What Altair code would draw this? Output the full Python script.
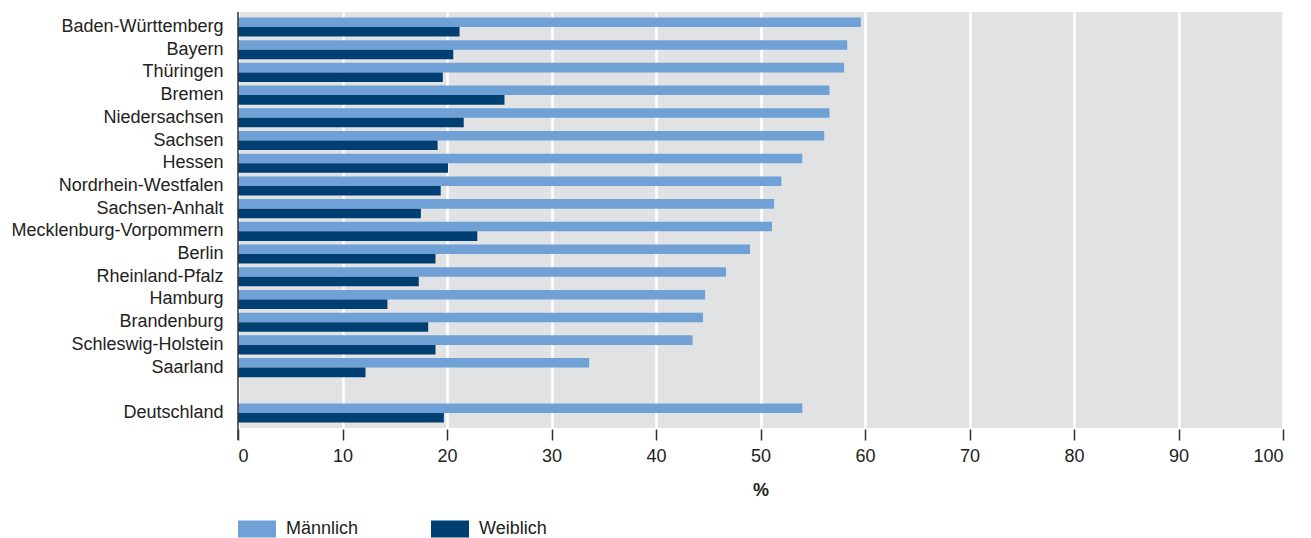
import altair as alt
import pandas as pd

laender = ["Baden-Württemberg", "Bayern", "Thüringen", "Bremen", "Niedersachsen",
           "Sachsen", "Hessen", "Nordrhein-Westfalen", "Sachsen-Anhalt",
           "Mecklenburg-Vorpommern", "Berlin", "Rheinland-Pfalz", "Hamburg",
           "Brandenburg", "Schleswig-Holstein", "Saarland", "Deutschland"]
maennlich = [59.6, 58.3, 58.0, 56.6, 56.6, 56.1, 54.0, 52.0, 51.3,
             51.1, 49.0, 46.7, 44.7, 44.5, 43.5, 33.6, 54.0]
weiblich = [21.2, 20.6, 19.6, 25.5, 21.6, 19.1, 20.1, 19.4, 17.5,
            22.9, 18.9, 17.3, 14.3, 18.2, 18.9, 12.2, 19.7]
geschlechter = ["Männlich", "Weiblich"]
farben = ["#6fa0d6", "#003f72"]
x_ticks = [0, 10, 20, 30, 40, 50, 60, 70, 80, 90, 100]

GAP = "_gap"
y_domain = laender[:-1] + [GAP] + laender[-1:]

rows = []
for land, m, w in zip(laender, maennlich, weiblich):
    rows.append({"Land": land, "Geschlecht": "Männlich", "Wert": m})
    rows.append({"Land": land, "Geschlecht": "Weiblich", "Wert": w})
df = pd.DataFrame(rows)

FONT = "Liberation Sans"
W, H = 1045, 416

bars = alt.Chart(df).mark_bar().encode(
    x=alt.X("Wert:Q",
            scale=alt.Scale(domain=[0, 100], nice=False, zero=True),
            axis=alt.Axis(values=x_ticks, title="%", domain=False,
                          grid=True, gridColor="white", gridWidth=2.5,
                          ticks=True, tickSize=11, tickColor="#333", tickWidth=1.5,
                          offset=1, labelPadding=7, labelFontSize=18,
                          labelColor="#222", labelFont=FONT,
                          titleFont=FONT, titleFontSize=18, titleFontWeight="bold",
                          titleColor="#222", titlePadding=16)),
    y=alt.Y("Land:N", sort=y_domain,
            scale=alt.Scale(domain=y_domain, paddingInner=0.16, paddingOuter=0.24),
            axis=alt.Axis(title=None, domain=False, ticks=False, grid=False,
                          labelFontSize=18, labelColor="#222", labelFont=FONT,
                          labelPadding=15, labelLimit=400,
                          labelExpr="datum.value == '_gap' ? '' : datum.value")),
    yOffset=alt.YOffset("Geschlecht:N", sort=geschlechter,
                        scale=alt.Scale(paddingInner=0, paddingOuter=0)),
    color=alt.Color("Geschlecht:N",
                    scale=alt.Scale(domain=geschlechter, range=farben),
                    legend=alt.Legend(title=None, orient="none", direction="horizontal",
                                      legendX=0, legendY=498,
                                      symbolType="M-1,-0.45L1,-0.45L1,0.45L-1,0.45Z",
                                      symbolSize=1444, symbolStrokeWidth=0,
                                      symbolOpacity=1,
                                      labelFontSize=18, labelFont=FONT,
                                      labelColor="#222", labelOffset=10,
                                      columnPadding=72)),
)

axis_line = alt.Chart(pd.DataFrame({"v": [0]})).mark_rule(
    color="#333", strokeWidth=1.5
).encode(
    x=alt.value(0),
    y=alt.value(0),
    y2=alt.value(H + 12),
)

chart = alt.layer(bars, axis_line).properties(
    width=W, height=H,
    padding={"left": 2, "top": 3, "right": 10, "bottom": 0},
).configure(
    font=FONT
).configure_view(
    fill="#e1e2e4", strokeWidth=0
)

chart.save("out.html", embed_options={"renderer": "svg", "actions": False})
